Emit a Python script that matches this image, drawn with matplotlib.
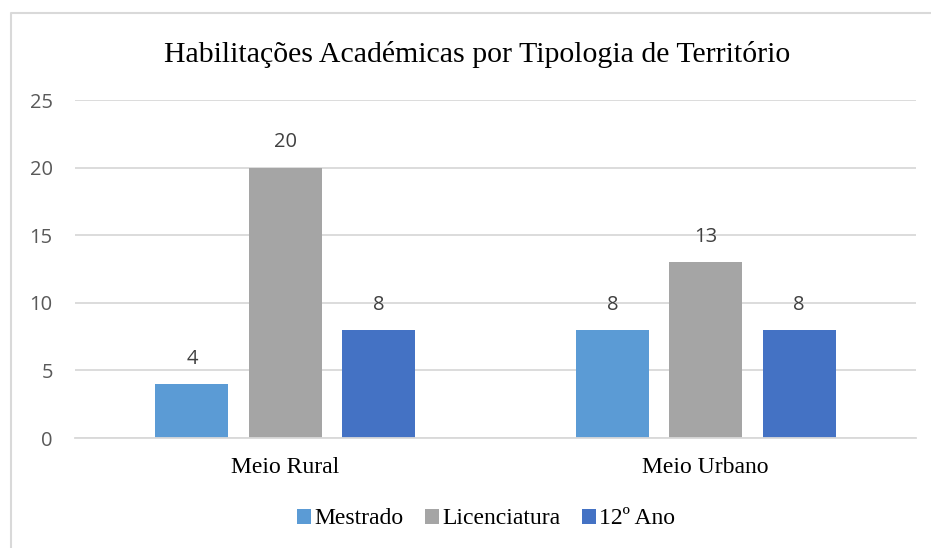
import matplotlib.pyplot as plt
from matplotlib.lines import Line2D
import numpy as np

categorias = ['Meio Rural', 'Meio Urbano']
series = ['Mestrado', 'Licenciatura', '12º Ano']
mestrado = [4, 8]
licenciatura = [20, 13]
ano12 = [8, 8]
cores = ['#5b9bd5', '#a5a5a5', '#4472c4']

W, H = 931, 548
fig = plt.figure(figsize=(W / 100, H / 100), dpi=100)
ax = fig.add_axes([75 / W, 1 - 438 / H, (916 - 75) / W, (438 - 100) / H])

sans = ['Open Sans', 'DejaVu Sans']
serif = ['Liberation Serif', 'DejaVu Serif']

x = np.arange(len(categorias))
largura = 0.174
passo = 0.222
valores = [mestrado, licenciatura, ano12]
for i, (nome, vals, cor) in enumerate(zip(series, valores, cores)):
    barras = ax.bar(x + (i - 1) * passo, vals, largura, color=cor, label=nome, zorder=2)
    ax.bar_label(barras, padding=11, fontsize=14.5, color='#404040', family=sans)

ax.set_xlim(-0.5, 1.5)
ax.set_ylim(0, 25)
ax.set_yticks(range(0, 26, 5))
ax.yaxis.grid(True, color='#d9d9d9', linewidth=1.3, zorder=0)
ax.set_axisbelow(True)
for s in ['top', 'right', 'left']:
    ax.spines[s].set_visible(False)
ax.spines['bottom'].set_color('#d9d9d9')
ax.spines['bottom'].set_linewidth(1.3)
ax.tick_params(axis='both', length=0)
ax.tick_params(axis='y', pad=16, labelsize=14.5, labelcolor='#595959')
for lbl in ax.get_yticklabels():
    lbl.set_family(sans)
ax.set_xticks(x)
ax.set_xticklabels(categorias, family=serif, fontsize=17, color='#000000')
ax.tick_params(axis='x', pad=14)

fig.text(477 / W, 1 - 54 / H, 'Habilitações Académicas por Tipologia de Território',
         ha='center', va='center', fontsize=21.5, family=serif)

fig.legend(loc='center', bbox_to_anchor=(486 / W, 1 - 519 / H), ncol=3, frameon=False,
           prop={'family': serif, 'size': 17},
           handlelength=0.6, handleheight=0.6, handletextpad=0.15, columnspacing=0.9)

fig.add_artist(Line2D([11 / W, 11 / W, 1.0], [0.0, 1 - 13 / H, 1 - 13 / H],
                      transform=fig.transFigure, color='#d9d9d9', linewidth=1.5))

fig.savefig('out.png', dpi=100)
